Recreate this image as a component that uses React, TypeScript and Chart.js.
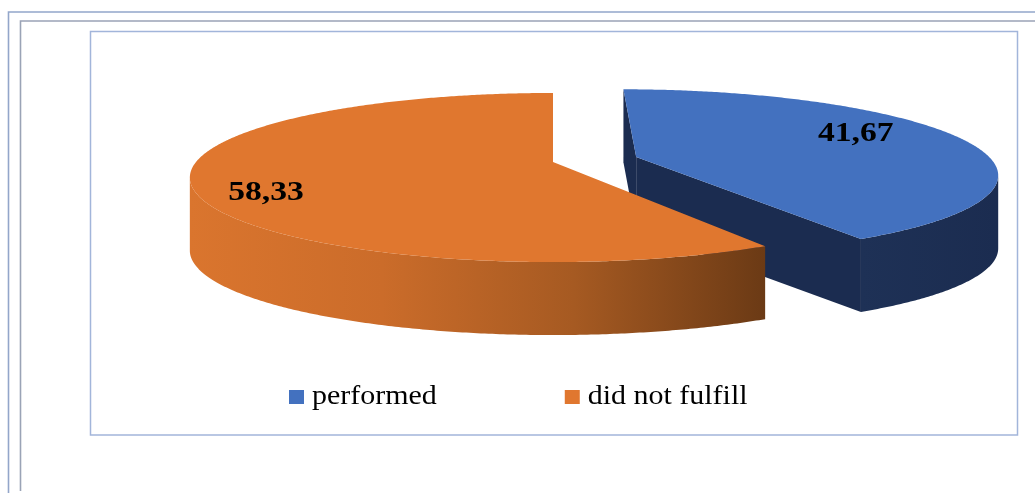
import React, { useEffect, useRef } from 'react';
import { Chart, registerables } from 'chart.js';

Chart.register(...registerables);

// ---- data ----
const categories: string[] = ['performed', 'did not fulfill'];
const values: number[] = [41.67, 58.33];

// ---- styles ----
const topColors: string[] = ['#4371BF', '#E0772F'];
const sideColors: string[][] = [
  ['#1E3156', '#1B2C50'],
  ['#DA752E', '#CB6C2A', '#A65A22', '#6B3A15'],
];
const explode: number[] = [0.244, 0];
const labelRadius: number[] = [0.74, 0.83];
const LABEL_SHIFT = (-10 * Math.PI) / 180;

// projection / layout constants (pixels)
const GEO = { cx: 553, cy: 162, R: 357, r: 81.7, D: 5.45, H: 73 };

function proj(X: number, Z: number, h = 0): [number, number] {
  const s = GEO.D / (GEO.D - Z);
  return [GEO.cx + GEO.R * X * s, GEO.cy + GEO.r * Z * s + h];
}

function faces(px: number, pz: number, nx: number, nz: number) {
  return (0 - px) * nx + (GEO.D - pz) * nz > 0;
}

function sideFill(ctx: CanvasRenderingContext2D, i: number, x0: number, x1: number) {
  const stops = sideColors[i];
  if (x1 - x0 < 1) return stops[0];
  const g = ctx.createLinearGradient(x0, 0, x1, 0);
  stops.forEach((c, k) => g.addColorStop(k / (stops.length - 1), c));
  return g;
}

function drawSlice(ctx: CanvasRenderingContext2D, sl: any) {
  const { i, a0, a1, ox, oz } = sl;
  const N = Math.max(8, Math.ceil((a1 - a0) / (Math.PI / 360)));
  const pts: { a: number; X: number; Z: number }[] = [];
  for (let k = 0; k <= N; k++) {
    const a = a0 + ((a1 - a0) * k) / N;
    pts.push({ a, X: ox + Math.cos(a), Z: oz + Math.sin(a) });
  }
  // visible outer side runs
  const runs: [number, number][] = [];
  let start = -1;
  for (let k = 0; k < N; k++) {
    const am = (pts[k].a + pts[k + 1].a) / 2;
    const vis = faces(ox + Math.cos(am), oz + Math.sin(am), Math.cos(am), Math.sin(am));
    if (vis && start < 0) start = k;
    if (!vis && start >= 0) {
      runs.push([start, k]);
      start = -1;
    }
  }
  if (start >= 0) runs.push([start, N]);

  // cut faces
  const C = { X: ox, Z: oz };
  const cutFaces: { a: number; n: [number, number] }[] = [
    { a: a0, n: [Math.sin(a0), -Math.cos(a0)] },
    { a: a1, n: [-Math.sin(a1), Math.cos(a1)] },
  ];
  for (const f of cutFaces) {
    const P = { X: ox + Math.cos(f.a), Z: oz + Math.sin(f.a) };
    const mx = (C.X + P.X) / 2;
    const mz = (C.Z + P.Z) / 2;
    if (!faces(mx, mz, f.n[0], f.n[1])) continue;
    const c0 = proj(C.X, C.Z);
    const p0 = proj(P.X, P.Z);
    const c1 = proj(C.X, C.Z, GEO.H);
    const p1 = proj(P.X, P.Z, GEO.H);
    ctx.beginPath();
    ctx.moveTo(c0[0], c0[1]);
    ctx.lineTo(p0[0], p0[1]);
    ctx.lineTo(p1[0], p1[1]);
    ctx.lineTo(c1[0], c1[1]);
    ctx.closePath();
    ctx.fillStyle = sideColors[i][sideColors[i].length - 1];
    ctx.fill();
  }

  for (const [k0, k1] of runs) {
    let minX = Infinity;
    let maxX = -Infinity;
    ctx.beginPath();
    for (let k = k0; k <= k1; k++) {
      const p = proj(pts[k].X, pts[k].Z);
      minX = Math.min(minX, p[0]);
      maxX = Math.max(maxX, p[0]);
      if (k === k0) ctx.moveTo(p[0], p[1]);
      else ctx.lineTo(p[0], p[1]);
    }
    for (let k = k1; k >= k0; k--) {
      const p = proj(pts[k].X, pts[k].Z, GEO.H);
      ctx.lineTo(p[0], p[1]);
    }
    ctx.closePath();
    ctx.fillStyle = sideFill(ctx, i, minX, maxX);
    ctx.fill();
  }

  // top face
  ctx.beginPath();
  const c = proj(ox, oz);
  ctx.moveTo(c[0], c[1]);
  for (const p of pts) {
    const q = proj(p.X, p.Z);
    ctx.lineTo(q[0], q[1]);
  }
  ctx.closePath();
  ctx.fillStyle = topColors[i];
  ctx.fill();
}

function stretchedText(ctx: CanvasRenderingContext2D, text: string, x: number, y: number, sx: number, align: CanvasTextAlign) {
  ctx.save();
  ctx.translate(x, y);
  ctx.scale(sx, 1);
  ctx.textAlign = align;
  ctx.fillText(text, 0, 0);
  ctx.restore();
}

const framePlugin = {
  id: 'frames',
  beforeDraw(chart: any) {
    const ctx: CanvasRenderingContext2D = chart.ctx;
    ctx.save();
    ctx.fillStyle = '#ffffff';
    ctx.fillRect(0, 0, chart.width, chart.height);
    ctx.lineWidth = 1.6;
    ctx.strokeStyle = '#93A6CA';
    ctx.beginPath();
    ctx.moveTo(8.5, 493);
    ctx.lineTo(8.5, 12);
    ctx.lineTo(1035, 12);
    ctx.stroke();
    ctx.strokeStyle = '#9AA3B6';
    ctx.beginPath();
    ctx.moveTo(20.5, 491);
    ctx.lineTo(20.5, 21);
    ctx.lineTo(1035, 21);
    ctx.stroke();
    ctx.lineWidth = 1.5;
    ctx.strokeStyle = '#A2B5DA';
    ctx.strokeRect(90.5, 31.5, 927, 403.5);
    ctx.restore();
  },
};

const pie3dPlugin = {
  id: 'pie3d',
  beforeDatasetsDraw(chart: any) {
    const ctx: CanvasRenderingContext2D = chart.ctx;
    const meta = chart.getDatasetMeta(0);
    const slices = meta.data.map((arc: any, i: number) => {
      const a0 = arc.startAngle;
      const a1 = arc.endAngle;
      const mid = (a0 + a1) / 2;
      const e = explode[i] || 0;
      return { i, a0, a1, mid, ox: e * Math.cos(mid), oz: e * Math.sin(mid) };
    });
    const order = [...slices].sort((a, b) => a.oz - b.oz);
    ctx.save();
    for (const sl of order) drawSlice(ctx, sl);
    // data labels
    ctx.fillStyle = '#000000';
    ctx.font = 'bold 28px "Liberation Serif", "Times New Roman", serif';
    ctx.textBaseline = 'middle';
    for (const sl of slices) {
      const a = sl.mid + LABEL_SHIFT;
      const f = labelRadius[sl.i];
      const p = proj(sl.ox + f * Math.cos(a), sl.oz + f * Math.sin(a));
      const txt = values[sl.i].toFixed(2).replace('.', ',');
      stretchedText(ctx, txt, p[0], p[1], 1.2, 'center');
    }
    ctx.restore();
    return false;
  },
  afterDraw(chart: any) {
    const ctx: CanvasRenderingContext2D = chart.ctx;
    ctx.save();
    ctx.font = '28px "Liberation Serif", "Times New Roman", serif';
    ctx.textBaseline = 'alphabetic';
    const sx = 1.07;
    let x = 289;
    const boxY = 390;
    const baseY = 404;
    categories.forEach((name, i) => {
      ctx.fillStyle = topColors[i];
      ctx.fillRect(x, boxY, 15, 14);
      x += 15 + 8;
      ctx.fillStyle = '#000000';
      stretchedText(ctx, name, x, baseY, sx, 'left');
      x += ctx.measureText(name).width * sx + 128;
    });
    ctx.restore();
  },
};

export default function App() {
  const ref = useRef<HTMLCanvasElement>(null);
  useEffect(() => {
    if (!ref.current) return;
    const chart = new Chart(ref.current, {
      type: 'pie',
      data: {
        labels: categories,
        datasets: [
          {
            data: values,
            backgroundColor: topColors,
            borderWidth: 0,
          },
        ],
      },
      options: {
        responsive: false,
        maintainAspectRatio: false,
        devicePixelRatio: 1,
        animation: false,
        events: [],
        plugins: {
          legend: { display: false },
          tooltip: { enabled: false },
        },
      },
      plugins: [framePlugin, pie3dPlugin],
    } as any);
    return () => chart.destroy();
  }, []);
  return (
    <div style={{ position: 'fixed', left: 0, top: 0, width: 1035, height: 495, background: '#fff' }}>
      <canvas ref={ref} width={1035} height={495} style={{ display: 'block', width: 1035, height: 495 }} />
    </div>
  );
}
